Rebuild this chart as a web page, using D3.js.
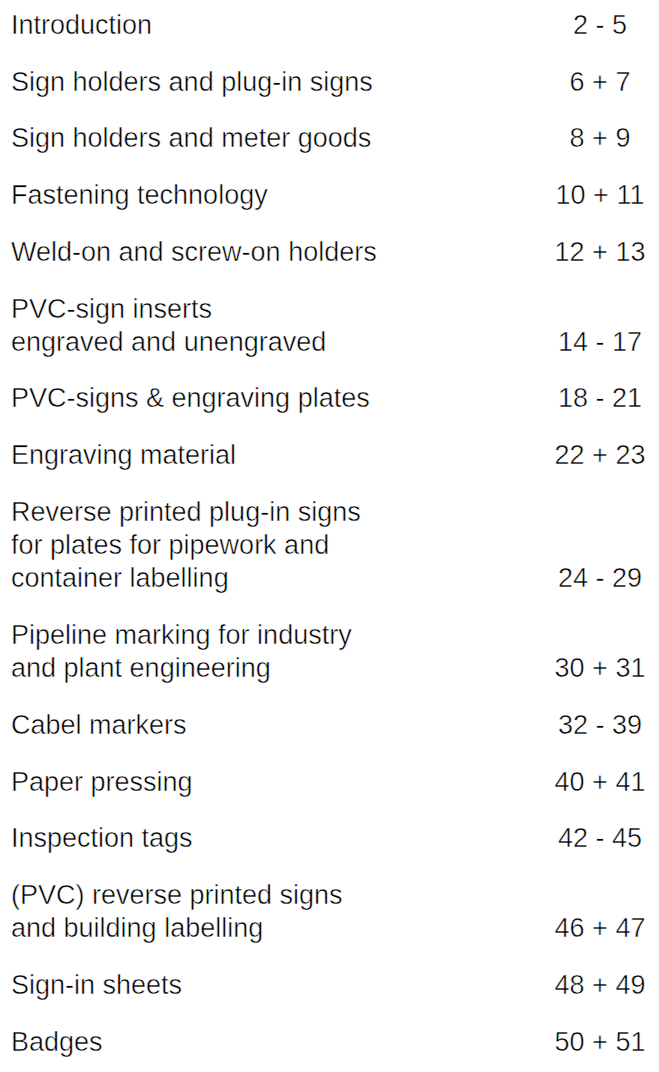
<!DOCTYPE html>
<html lang="en">
<head>
<meta charset="UTF-8">
<title>Contents</title>
<script src="https://d3js.org/d3.v7.min.js"></script>
<style>
    body {
        margin: 0;
        background: white;
    }
    svg {
        display: block;
    }
    .toc text {
        font-family: "Liberation Sans", Helvetica, Arial, sans-serif;
        font-size: 27px;
        font-weight: 300;
        fill: #000;
        /* thin the regular face a little towards the light original */
        stroke: white;
        stroke-width: 0.5px;
    }
</style>
</head>
<body>
<div id="container"></div>
<script>
    // contents entries: title lines and page ranges
    const titles = [
        ["Introduction"],
        ["Sign holders and plug-in signs"],
        ["Sign holders and meter goods"],
        ["Fastening technology"],
        ["Weld-on and screw-on holders"],
        ["PVC-sign inserts", "engraved and unengraved"],
        ["PVC-signs & engraving plates"],
        ["Engraving material"],
        ["Reverse printed plug-in signs", "for plates for pipework and", "container labelling"],
        ["Pipeline marking for industry", "and plant engineering"],
        ["Cabel markers"],
        ["Paper pressing"],
        ["Inspection tags"],
        ["(PVC) reverse printed signs", "and building labelling"],
        ["Sign-in sheets"],
        ["Badges"]
    ];
    const pages = ["2 - 5", "6 + 7", "8 + 9", "10 + 11", "12 + 13", "14 - 17", "18 - 21", "22 + 23",
        "24 - 29", "30 + 31", "32 - 39", "40 + 41", "42 - 45", "46 + 47", "48 + 49", "50 + 51"];

    const width = 659;
    const height = 1072;
    const margins = {top: 34, left: 11};
    const entryGap = 56.7;   // baseline step between entries
    const lineGap = 33.2;    // baseline step inside an entry

    const svg = d3.select("#container").append("svg")
        .attr("width", width)
        .attr("height", height);

    // number of wrapped lines before each entry
    const extraBefore = [];
    let acc = 0;
    titles.forEach(t => { extraBefore.push(acc); acc += t.length - 1; });

    const rows = titles.map((t, i) => ({lines: t, page: pages[i], idx: i, extra: extraBefore[i]}));

    const yScale = d3.scaleLinear()
        .domain([0, 1])
        .range([margins.top, margins.top + entryGap]);
    const yLine = d3.scaleLinear()
        .domain([0, 1])
        .range([0, lineGap]);

    const xTitle = margins.left;
    const xPage = 600;

    const row = svg.append("g").attr("class", "toc")
        .selectAll("g")
        .data(rows)
        .enter()
        .append("g")
        .attr("transform", d => `translate(0, ${yScale(d.idx) + yLine(d.extra)})`);

    row.selectAll("text.title")
        .data(d => d.lines)
        .enter()
        .append("text")
        .attr("class", "title")
        .attr("x", xTitle)
        .attr("y", (d, i) => yLine(i))
        .text(d => d);

    row.append("text")
        .attr("class", "page")
        .attr("x", xPage)
        .attr("y", d => yLine(d.lines.length - 1))
        .attr("text-anchor", "middle")
        .text(d => d.page);
</script>
</body>
</html>
